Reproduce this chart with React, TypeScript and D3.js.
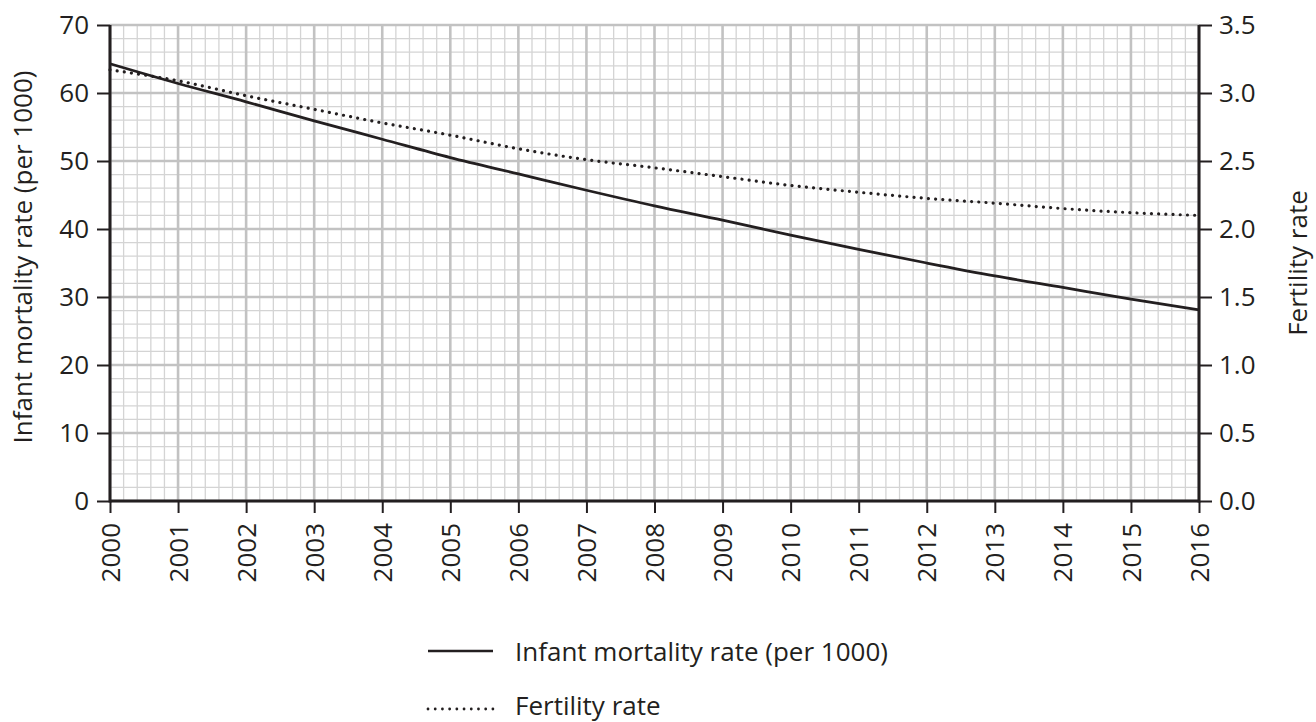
import React, { useEffect, useRef } from 'react';
import * as d3 from 'd3';

const years = [2000, 2001, 2002, 2003, 2004, 2005, 2006, 2007, 2008, 2009, 2010, 2011, 2012, 2013, 2014, 2015, 2016];
const infantMortality = [64.3, 61.4, 58.7, 55.9, 53.2, 50.5, 48.1, 45.7, 43.4, 41.3, 39.1, 37.0, 35.0, 33.1, 31.4, 29.7, 28.1];
const fertilityRate = [3.17, 3.09, 2.98, 2.88, 2.78, 2.69, 2.59, 2.51, 2.45, 2.385, 2.32, 2.27, 2.225, 2.19, 2.15, 2.12, 2.1];
const leftTicks = [0, 10, 20, 30, 40, 50, 60, 70];
const rightTicks = [0, 0.5, 1, 1.5, 2, 2.5, 3, 3.5];
const legendLabels = ['Infant mortality rate (per 1000)', 'Fertility rate'];

const W = 1316;
const H = 722;
const FONT = '"Open Sans", sans-serif';
const FS = '26px';
const INK = '#231f20';

const App = () => {
  const svgRef = useRef<SVGSVGElement>(null);

  useEffect(() => {
    const svg = d3.select(svgRef.current);
    svg.selectAll('*').remove();

    const margin = { top: 25, right: 117, bottom: 221, left: 110 };
    const x = d3.scaleLinear().domain([2000, 2016]).range([margin.left, W - margin.right]);
    const yL = d3.scaleLinear().domain([0, 70]).range([H - margin.bottom, margin.top]);
    const yR = d3.scaleLinear().domain([0, 3.5]).range([H - margin.bottom, margin.top]);

    // minor grid every 0.2 years / 2 units
    const minorX = d3.range(0, 80).map(i => 2000 + i * 0.2).filter(v => Math.abs(v - Math.round(v)) > 0.01);
    const minorY = d3.range(0, 35).map(i => i * 2).filter(v => v % 10 !== 0);

    const grid = svg.append('g');
    grid.selectAll('.mx').data(minorX).enter().append('line')
      .attr('x1', d => x(d)).attr('x2', d => x(d))
      .attr('y1', yL(70)).attr('y2', yL(0))
      .attr('stroke', '#d4d4d4').attr('stroke-width', 1.3);
    grid.selectAll('.my').data(minorY).enter().append('line')
      .attr('x1', x(2000)).attr('x2', x(2016))
      .attr('y1', d => yL(d)).attr('y2', d => yL(d))
      .attr('stroke', '#d4d4d4').attr('stroke-width', 1.3);
    grid.selectAll('.MX').data(years).enter().append('line')
      .attr('x1', d => x(d)).attr('x2', d => x(d))
      .attr('y1', yL(70)).attr('y2', yL(0))
      .attr('stroke', '#c2c2c2').attr('stroke-width', 2.6);
    grid.selectAll('.MY').data(leftTicks).enter().append('line')
      .attr('x1', x(2000)).attr('x2', x(2016))
      .attr('y1', d => yL(d)).attr('y2', d => yL(d))
      .attr('stroke', '#c2c2c2').attr('stroke-width', 2.6);

    // lines
    const mortLine = d3.line<number>()
      .x((_, i) => x(years[i]))
      .y(d => yL(d))
      .curve(d3.curveMonotoneX);
    svg.append('path')
      .datum(infantMortality)
      .attr('fill', 'none')
      .attr('stroke', INK)
      .attr('stroke-width', 2.8)
      .attr('d', mortLine);

    const fertLine = d3.line<number>()
      .x((_, i) => x(years[i]))
      .y(d => yR(d))
      .curve(d3.curveMonotoneX);
    svg.append('path')
      .datum(fertilityRate)
      .attr('fill', 'none')
      .attr('stroke', INK)
      .attr('stroke-width', 3.2)
      .attr('stroke-linecap', 'round')
      .attr('stroke-dasharray', '0.01 7.2')
      .attr('d', fertLine);

    // axes
    const styleAxis = (g: d3.Selection<SVGGElement, unknown, null, undefined>) => {
      g.select('.domain').remove();
      g.selectAll('.tick line').attr('stroke', INK).attr('stroke-width', 2);
      g.selectAll('.tick text')
        .attr('fill', INK)
        .style('font-family', FONT)
        .style('font-size', FS);
    };

    const gx = svg.append('g')
      .attr('transform', `translate(0,${yL(0)})`)
      .call(d3.axisBottom(x).tickValues(years).tickFormat(d3.format('d')).tickSize(12).tickPadding(0));
    styleAxis(gx);
    gx.selectAll('.tick text')
      .attr('transform', 'rotate(-90)')
      .attr('text-anchor', 'end')
      .attr('x', -22)
      .attr('y', 0)
      .attr('dy', '0.35em');

    const gl = svg.append('g')
      .attr('transform', `translate(${x(2000)},0)`)
      .call(d3.axisLeft(yL).tickValues(leftTicks).tickSize(13).tickPadding(8));
    styleAxis(gl);

    const gr = svg.append('g')
      .attr('transform', `translate(${x(2016)},0)`)
      .call(d3.axisRight(yR).tickValues(rightTicks).tickFormat(d3.format('.1f')).tickSize(13).tickPadding(7));
    styleAxis(gr);

    // axis frame lines
    svg.append('line')
      .attr('x1', x(2000)).attr('x2', x(2000))
      .attr('y1', yL(70)).attr('y2', yL(0) + 1.5)
      .attr('stroke', INK).attr('stroke-width', 3);
    svg.append('line')
      .attr('x1', x(2016)).attr('x2', x(2016))
      .attr('y1', yL(70)).attr('y2', yL(0) + 1.5)
      .attr('stroke', INK).attr('stroke-width', 3);
    svg.append('line')
      .attr('x1', x(2000)).attr('x2', x(2016))
      .attr('y1', yL(0)).attr('y2', yL(0))
      .attr('stroke', INK).attr('stroke-width', 3);

    // axis titles
    svg.append('text')
      .attr('transform', `translate(32,257) rotate(-90)`)
      .attr('text-anchor', 'middle')
      .attr('fill', INK)
      .style('font-family', FONT)
      .style('font-size', FS)
      .text('Infant mortality rate (per 1000)');

    svg.append('text')
      .attr('transform', `translate(1307,${(yL(0) + yL(70)) / 2}) rotate(-90)`)
      .attr('text-anchor', 'middle')
      .attr('fill', INK)
      .style('font-family', FONT)
      .style('font-size', FS)
      .text('Fertility rate');

    // legend
    const markY = [651, 709];
    const textY = [661, 715];
    const legend = svg.append('g');
    legendLabels.forEach((label, i) => {
      const line = legend.append('line')
        .attr('x1', 428).attr('x2', 493)
        .attr('y1', markY[i]).attr('y2', markY[i])
        .attr('stroke', INK);
      if (i === 0) {
        line.attr('stroke-width', 2.6);
      } else {
        line.attr('stroke-width', 2.8)
          .attr('stroke-linecap', 'round')
          .attr('stroke-dasharray', '0.01 7.2');
      }
      legend.append('text')
        .attr('x', 515)
        .attr('y', textY[i])
        .attr('fill', INK)
        .style('font-family', FONT)
        .style('font-size', FS)
        .text(label);
    });
  }, []);

  return (
    <div style={{ position: 'absolute', left: 0, top: 0, background: '#fff' }}>
      <svg ref={svgRef} width={W} height={H} style={{ display: 'block' }} />
    </div>
  );
};

export default App;
